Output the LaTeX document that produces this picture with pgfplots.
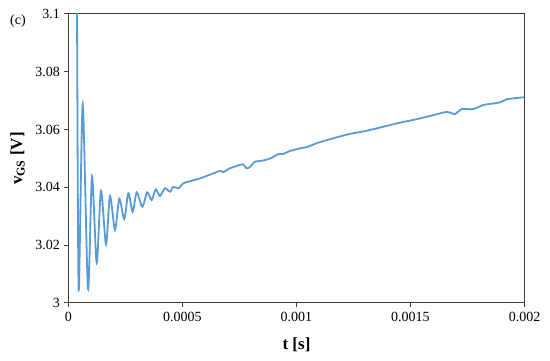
\documentclass[border=0pt]{standalone}
\usepackage{pgfplots}
\pgfplotsset{compat=1.18}
\usepackage{fontspec}
\setmainfont{Liberation Serif}
\definecolor{lineblue}{RGB}{91,155,213}
\definecolor{axgray}{RGB}{60,60,60}
\begin{document}
\begin{tikzpicture}[x=1pt,y=1pt]
\begin{axis}[
  at={(0,0)}, anchor=south west,
  scale only axis, width=456pt, height=289pt,
  xmin=0, xmax=0.002, ymin=3, ymax=3.1,
  scaled x ticks=false, scaled y ticks=false,
  xtick={0,0.0005,0.001,0.0015,0.002},
  xticklabels={0,0.0005,0.001,0.0015,0.002},
  ytick={3,3.02,3.04,3.06,3.08,3.1},
  yticklabels={3,3.02,3.04,3.06,3.08,3.1},
  /pgf/number format/assume math mode=true,
  tick align=outside, major tick length=4pt,
  xtick pos=bottom, ytick pos=left,
  axis line style={axgray, line width=1pt},
  every tick/.style={axgray, line width=1pt},
  tick label style={font=\fontsize{14}{16}\selectfont},
  xticklabel style={yshift=-2pt},
  yticklabel style={xshift=-1pt},
  clip=true,
]
\addplot[lineblue, line width=1.8pt, smooth, tension=0.45] coordinates {
(3.07e-5,3.2) (3.73e-5,3.1) (4.47e-5,3.0045) (6.23e-5,3.0688) (8.55e-5,3.0047)
(1.031e-4,3.0439) (1.237e-4,3.0139) (1.425e-4,3.0389) (1.645e-4,3.0203)
(1.820e-4,3.0370) (2.039e-4,3.0253) (2.228e-4,3.0361) (2.447e-4,3.0290)
(2.623e-4,3.0380) (2.816e-4,3.0316) (2.991e-4,3.0383) (3.237e-4,3.0333)
(3.456e-4,3.0383) (3.649e-4,3.0356) (3.825e-4,3.0393) (4.013e-4,3.0371)
(4.232e-4,3.0397) (4.452e-4,3.0385) (4.597e-4,3.0402) (4.816e-4,3.0397)
(5.035e-4,3.0414) (5.254e-4,3.0420) (5.768e-4,3.0431) (6.645e-4,3.0457)
(6.776e-4,3.0452) (7.083e-4,3.0466) (7.522e-4,3.0478) (7.654e-4,3.0480)
(7.816e-4,3.0466) (7.961e-4,3.0471) (8.180e-4,3.0489) (8.474e-4,3.0492)
(8.838e-4,3.0500) (9.202e-4,3.0515) (9.421e-4,3.0516) (9.715e-4,3.0526)
(1.0154e-3,3.0535) (1.0518e-3,3.0541) (1.0886e-3,3.0553) (1.1614e-3,3.0570)
(1.2347e-3,3.0585) (1.3079e-3,3.0596) (1.3807e-3,3.0610) (1.4540e-3,3.0624)
(1.5272e-3,3.0636) (1.6000e-3,3.0650) (1.6588e-3,3.0661) (1.6952e-3,3.0654)
(1.7246e-3,3.0671) (1.7754e-3,3.0671) (1.8193e-3,3.0685) (1.8925e-3,3.0694)
(1.9220e-3,3.0705) (2.0e-3,3.0712)
};
\end{axis}
\node[font=\fontsize{17}{19}\selectfont\bfseries] at (228,-42) {t [s]};
\node[font=\fontsize{17}{19}\selectfont\bfseries, rotate=90] at (-51,144.5) {v\textsubscript{GS} [V]};
\node[font=\fontsize{14}{16}\selectfont] at (-50.5,282) {(c)};
\path[use as bounding box] (-68.5,-58) rectangle (481.5,303);
\end{tikzpicture}
\end{document}
